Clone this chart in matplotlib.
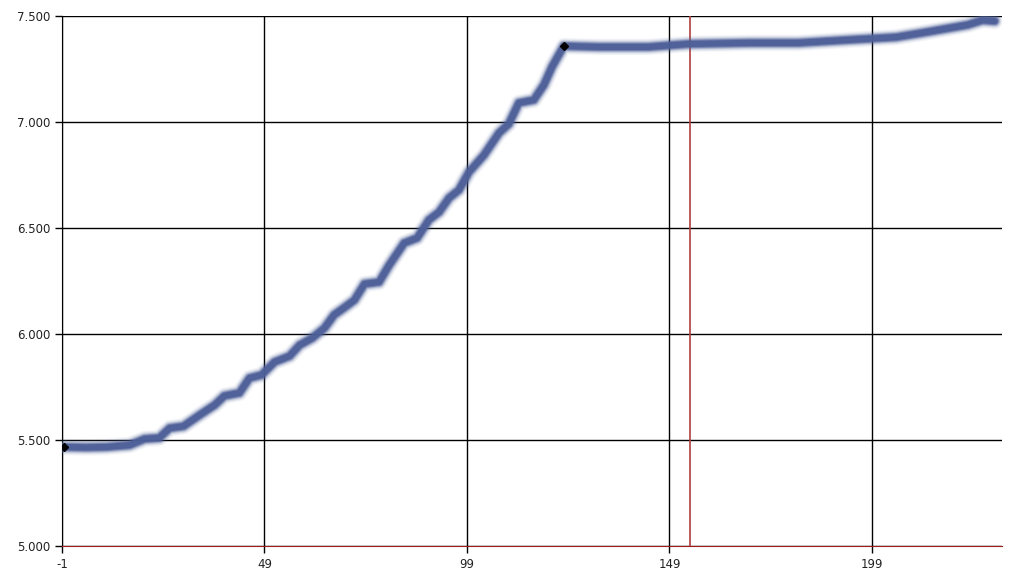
import matplotlib
matplotlib.use("Agg")
import matplotlib.pyplot as plt

plt.rcParams["axes.unicode_minus"] = False

# values
x_vals = [-0.5, 5, 10, 15.7, 19.4, 23, 25.6, 29, 33, 36.7, 39.1, 42.8, 45.3, 48.3,
          51.5, 55.2, 57.7, 60.8, 63.8, 66.2, 68.6, 71.2, 73.7, 77.3, 79.8, 83.5,
          86.7, 89.6, 92.1, 94.6, 97, 99.5, 103.2, 106.9, 109.3, 111.8, 115.5,
          118, 120, 122.9, 131.5, 143.8, 153.7, 168.5, 180.8, 193, 205, 212.8,
          222.6, 226.3, 229.3]
y_vals = [5.467, 5.465, 5.467, 5.476, 5.505, 5.51, 5.556, 5.565, 5.618, 5.665,
          5.708, 5.722, 5.792, 5.807, 5.868, 5.896, 5.948, 5.981, 6.028, 6.09,
          6.123, 6.16, 6.236, 6.245, 6.325, 6.429, 6.453, 6.538, 6.575, 6.642,
          6.679, 6.764, 6.844, 6.948, 6.99, 7.09, 7.104, 7.175, 7.26, 7.358,
          7.354, 7.354, 7.368, 7.373, 7.373, 7.387, 7.40, 7.425, 7.458, 7.48,
          7.476]
marker_idx = [0, 39]
red_line_x = 154.1

x_ticks = [-1, 49, 99, 149, 199]
y_ticks = [5.0, 5.5, 6.0, 6.5, 7.0, 7.5]
y_labels = ["5.000", "5.500", "6.000", "6.500", "7.000", "7.500"]

fig = plt.figure(figsize=(10.24, 5.81), dpi=100)
ax = fig.add_axes([0.0605, 0.0602, 0.918, 0.9123])

ax.set_xlim(-1, 231.1)
ax.set_ylim(5.0, 7.5)

ax.set_xticks(x_ticks)
ax.set_yticks(y_ticks)
ax.set_yticklabels(y_labels)
ax.tick_params(axis="both", labelsize=8.5, colors="black", length=5, width=1, labelcolor="#222222")

ax.grid(True, color="black", linewidth=1)
ax.set_axisbelow(True)

for side in ["top", "right"]:
    ax.spines[side].set_visible(False)
ax.spines["left"].set_color("black")
ax.spines["bottom"].set_color("#a01c1c")

ax.axvline(red_line_x, color="#b04040", linewidth=1.2, zorder=2)

# soft blurry line: stack wide translucent strokes under the core
line_color = "#4d5f98"
for lw, a in [(12, 0.05), (10.5, 0.08), (9, 0.15), (7.5, 0.3), (6, 0.55), (4.5, 0.9)]:
    ax.plot(x_vals, y_vals, color=line_color, linewidth=lw, alpha=a,
            solid_capstyle="round", solid_joinstyle="round", zorder=3)

ax.plot([x_vals[i] for i in marker_idx], [y_vals[i] for i in marker_idx],
        linestyle="none", marker="D", markersize=4, color="black", zorder=4)

fig.savefig("out.png", dpi=100)
